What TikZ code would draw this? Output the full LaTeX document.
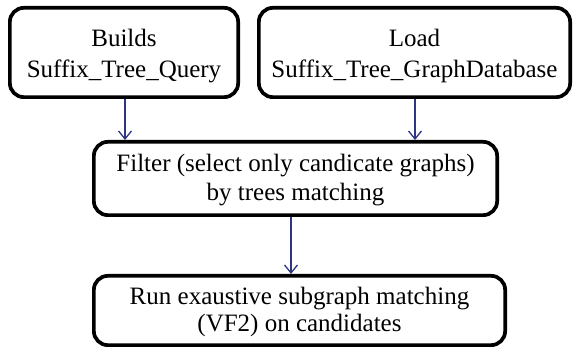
\documentclass[tikz,border=0pt]{standalone}
\usepackage{fontspec}
\setmainfont{Liberation Serif}
\usetikzlibrary{arrows.meta}
\definecolor{arrowblue}{HTML}{2E3580}
\tikzset{
  stepbox/.style={draw=black, line width=3.7pt, rounded corners=14pt,
    inner sep=0pt, font=\fontsize{25}{31}\selectfont},
  flow/.style={draw=arrowblue, line width=1.3pt, -{Straight Barb[length=8pt,width=13pt,line width=1.3pt]}}
}
\newcommand{\twolines}[3]{\begin{tabular}[t]{@{}c@{}}#1\\[#3]#2\end{tabular}}
\begin{document}
\begin{tikzpicture}[x=1pt,y=-1pt]
\useasboundingbox (0,0) rectangle (574,347);
\node[stepbox, minimum width=228.3pt, minimum height=89.3pt, text height=28.7pt, text depth=40.3pt] (b1) at (124,52.5) {\twolines{Builds}{Suffix\_Tree\_Query}{0pt}};
\node[stepbox, minimum width=311.3pt, minimum height=89.3pt, text height=28.7pt, text depth=40.3pt] (b2) at (414.5,52.5) {\twolines{Load}{Suffix\_Tree\_GraphDatabase}{0pt}};
\node[stepbox, minimum width=403.3pt, minimum height=73.3pt, text height=24.2pt, text depth=37.8pt] (b3) at (295.5,178.5) {\twolines{Filter (select only candicate graphs)}{by trees matching}{-2.5pt}};
\node[stepbox, minimum width=411.3pt, minimum height=69.3pt, text height=24.3pt, text depth=36.3pt] (b4) at (299.5,310.5) {\twolines{Run exaustive subgraph matching}{(VF2) on candidates}{-4pt}};
\coordinate (c1) at (125,0);
\coordinate (c2) at (415,0);
\coordinate (c3) at (291,0);
\draw[flow] (b1.south -| c1) -- (b3.north -| c1);
\draw[flow] (b2.south -| c2) -- (b3.north -| c2);
\draw[flow] (b3.south -| c3) -- (b4.north -| c3);
\end{tikzpicture}
\end{document}
